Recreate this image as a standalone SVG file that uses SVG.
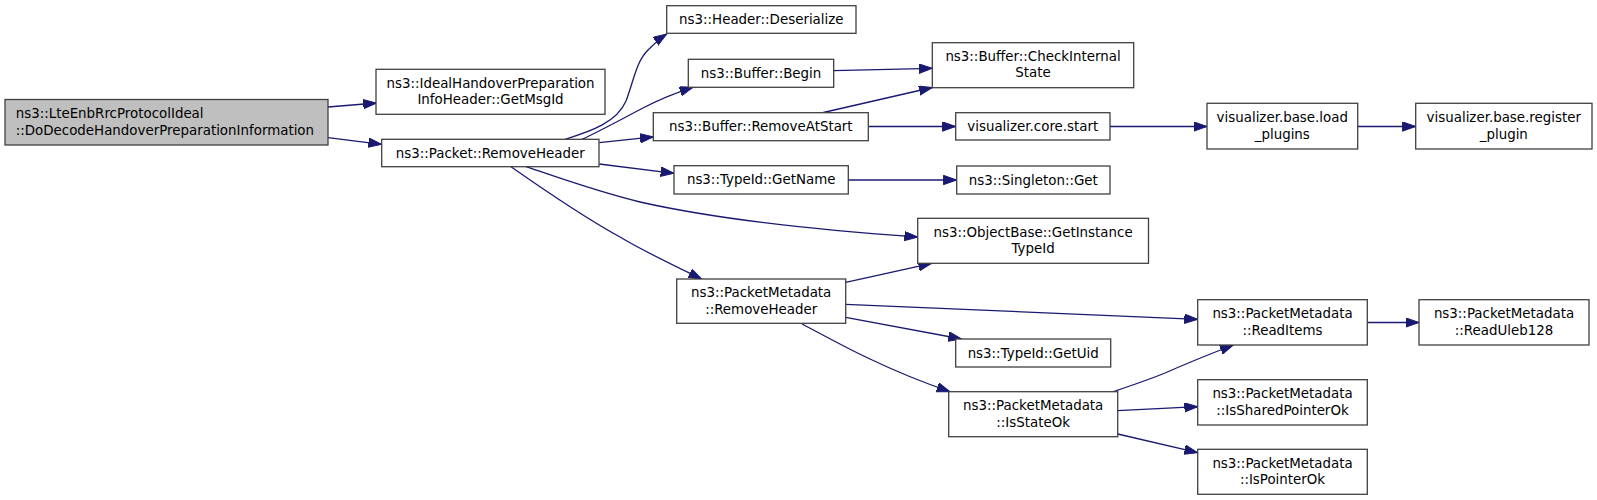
<svg xmlns="http://www.w3.org/2000/svg" width="1597" height="500" viewBox="0 0 1597 500">
<style>
.n rect{fill:#ffffff;stroke:#404040;stroke-width:1.3}
.n text{font-family:"DejaVu Sans",sans-serif;font-size:13.4px;fill:#000;text-anchor:middle}
#n0 rect{fill:#bfbfbf}
#n0 text{text-anchor:start}
.e path{fill:none;stroke:#191970;stroke-width:1.3;marker-end:url(#ah)}
</style>
<defs>
<marker id="ah" markerUnits="userSpaceOnUse" markerWidth="14" markerHeight="10" refX="13.3" refY="4.7" orient="auto" viewBox="0 0 14 10">
<path d="M0,0 L13.3,4.7 L0,9.4 z" fill="#191970" stroke="#191970" stroke-width="1"/>
</marker>
</defs>
<rect width="1597" height="500" fill="#ffffff"/>
<g id="edges" class="e">
<path d="M328,107 L376.5,103"/>
<path d="M328,137.7 L381.7,144.3"/>
<path d="M565,139.3 C592,131 617,122 626,101 C634,80 636,62 648,50 C654,44 659,39 666.7,34"/>
<path d="M582,139.3 C600,131 620,120 643,108 C658,100 675,93 693,87.3"/>
<path d="M599.3,142.7 L653.3,136.8"/>
<path d="M599.3,164 L674,173.3"/>
<path d="M526,166.7 C560,178 595,191 640,202 C720,220 830,231 917.7,237"/>
<path d="M511,166.7 C540,187 580,215 620,237 C645,252 675,266 701.7,279"/>
<path d="M845.7,282.3 L931.7,263.3"/>
<path d="M845.7,304.3 L1197.7,319.3"/>
<path d="M845.7,317.3 L961.7,339"/>
<path d="M802,324 C825,336 848,349 870,359 C895,371 925,383 950,391.7"/>
<path d="M833.7,70.7 L932.3,68.3"/>
<path d="M823.3,112.5 L932.3,87.5"/>
<path d="M868.3,126.5 L955.7,126.5"/>
<path d="M1110,126.5 L1207,126.5"/>
<path d="M1357.7,126.5 L1415.7,126.5"/>
<path d="M848.3,180 L956.7,180"/>
<path d="M1113,391.7 C1130,386 1148,380 1165,373 C1190,362 1210,354 1233.3,345"/>
<path d="M1117.7,410.7 L1197.7,406.7"/>
<path d="M1117.7,434 L1197.7,452.7"/>
<path d="M1367.3,322.5 L1419,322.5"/>
</g>
<g id="n0" class="n"><rect x="5" y="99.5" width="323" height="45.5"/><text x="15.7" y="118.3">ns3::LteEnbRrcProtocolIdeal</text><text x="15.7" y="135">::DoDecodeHandoverPreparationInformation</text></g>
<g id="n1" class="n"><rect x="376" y="69.3" width="229" height="45"/><text x="490.5" y="87.5">ns3::IdealHandoverPreparation</text><text x="490.5" y="104">InfoHeader::GetMsgId</text></g>
<g id="n2" class="n"><rect x="381.7" y="139.3" width="217.3" height="27.4"/><text x="490.3" y="157.5">ns3::Packet::RemoveHeader</text></g>
<g id="n3" class="n"><rect x="666.7" y="5.7" width="189.3" height="27.6"/><text x="761.3" y="24">ns3::Header::Deserialize</text></g>
<g id="n4" class="n"><rect x="688.3" y="59.3" width="145.4" height="28"/><text x="761" y="77.8">ns3::Buffer::Begin</text></g>
<g id="n5" class="n"><rect x="653.3" y="112.7" width="215" height="28"/><text x="760.8" y="131.2">ns3::Buffer::RemoveAtStart</text></g>
<g id="n6" class="n"><rect x="674" y="165.7" width="174.3" height="28.3"/><text x="761.2" y="184.3">ns3::TypeId::GetName</text></g>
<g id="n7" class="n"><rect x="932.3" y="42.7" width="201.4" height="45"/><text x="1033" y="60.8">ns3::Buffer::CheckInternal</text><text x="1033" y="77.4">State</text></g>
<g id="n8" class="n"><rect x="955.7" y="112.7" width="154.3" height="27.3"/><text x="1032.8" y="130.8">visualizer.core.start</text></g>
<g id="n9" class="n"><rect x="956.7" y="166" width="153.3" height="28"/><text x="1033.3" y="184.5">ns3::Singleton::Get</text></g>
<g id="n10" class="n"><rect x="917.7" y="218.3" width="230.8" height="45"/><text x="1033.1" y="236.5">ns3::ObjectBase::GetInstance</text><text x="1033.1" y="253">TypeId</text></g>
<g id="n11" class="n"><rect x="676.7" y="279" width="169" height="44.3"/><text x="761.2" y="296.9">ns3::PacketMetadata</text><text x="761.2" y="313.5">::RemoveHeader</text></g>
<g id="n12" class="n"><rect x="1207" y="103.3" width="150.7" height="45.7"/><text x="1282.3" y="121.9">visualizer.base.load</text><text x="1282.3" y="138.5">_plugins</text></g>
<g id="n13" class="n"><rect x="1415.7" y="103.3" width="176.3" height="45.7"/><text x="1503.8" y="121.9">visualizer.base.register</text><text x="1503.8" y="138.5">_plugin</text></g>
<g id="n14" class="n"><rect x="955.7" y="339" width="155" height="28"/><text x="1033.2" y="357.5">ns3::TypeId::GetUid</text></g>
<g id="n15" class="n"><rect x="948.7" y="391.7" width="169" height="45"/><text x="1033.2" y="409.9">ns3::PacketMetadata</text><text x="1033.2" y="426.5">::IsStateOk</text></g>
<g id="n16" class="n"><rect x="1197.7" y="299.7" width="169.6" height="45.3"/><text x="1282.5" y="318">ns3::PacketMetadata</text><text x="1282.5" y="334.6">::ReadItems</text></g>
<g id="n17" class="n"><rect x="1419" y="299.7" width="170" height="45.3"/><text x="1504" y="318">ns3::PacketMetadata</text><text x="1504" y="334.6">::ReadUleb128</text></g>
<g id="n18" class="n"><rect x="1197.7" y="379.7" width="169.6" height="45.3"/><text x="1282.5" y="398">ns3::PacketMetadata</text><text x="1282.5" y="414.6">::IsSharedPointerOk</text></g>
<g id="n19" class="n"><rect x="1197.7" y="449.3" width="169.6" height="45"/><text x="1282.5" y="467.5">ns3::PacketMetadata</text><text x="1282.5" y="484.1">::IsPointerOk</text></g>
</svg>
